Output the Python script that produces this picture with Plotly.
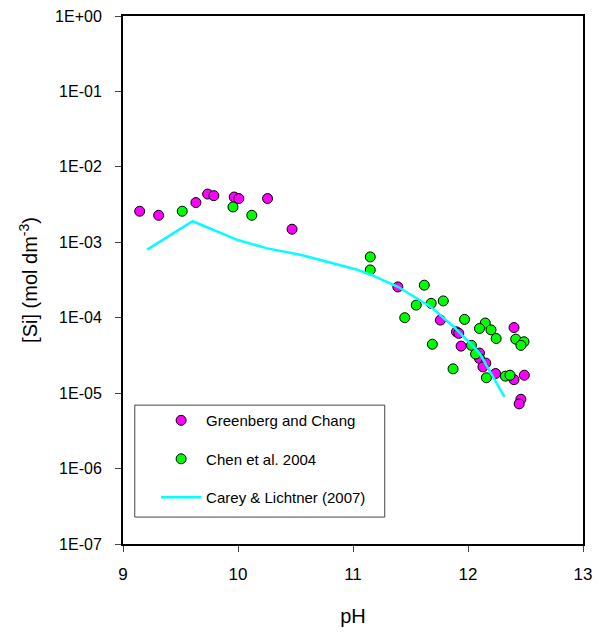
import plotly.graph_objects as go

# Greenberg and Chang data
gc_ph = [9.145, 9.31, 9.634, 9.736, 9.79, 9.967, 10.007, 10.257, 10.47,
         11.39, 11.76, 11.90, 11.92, 11.94, 12.10, 12.10, 12.155, 12.13, 12.24,
         12.40, 12.40, 12.49, 12.46, 12.445]
gc_si = [2.58e-3, 2.28e-3, 3.36e-3, 4.36e-3, 4.15e-3, 3.98e-3, 3.8e-3, 3.8e-3, 1.49e-3,
         2.56e-4, 9.3e-5, 6.5e-5, 6.2e-5, 4.2e-5, 3.4e-5, 2.88e-5, 2.5e-5, 2.23e-5, 1.82e-5,
         7.4e-5, 1.51e-5, 1.73e-5, 8.3e-6, 7.2e-6]

# Chen et al. 2004 data
ch_ph = [9.515, 9.956, 10.12, 11.15, 11.15, 11.62, 11.55, 11.68, 11.785, 11.45, 11.97,
         12.15, 12.10, 12.20, 12.245, 11.69, 12.03, 12.066, 11.87, 12.16, 12.325, 12.365,
         12.415, 12.487, 12.46]
ch_si = [2.58e-3, 2.94e-3, 2.28e-3, 6.4e-4, 4.3e-4, 2.7e-4, 1.47e-4, 1.55e-4, 1.67e-4, 1.0e-4, 9.5e-5,
         8.5e-5, 7.2e-5, 6.9e-5, 5.3e-5, 4.45e-5, 4.3e-5, 3.3e-5, 2.1e-5, 1.6e-5, 1.68e-5, 1.73e-5,
         5.2e-5, 4.8e-5, 4.3e-5]

# Carey & Lichtner (2007) model curve
cl_ph = [9.21, 9.606, 9.998, 10.254, 10.55, 10.68, 11.022, 11.165, 11.39, 11.677, 11.875, 12.10, 12.317]
cl_si = [8.0e-4, 1.9e-3, 1.07e-3, 8.3e-4, 6.8e-4, 6.0e-4, 4.4e-4, 3.66e-4, 2.57e-4, 1.39e-4, 7.6e-5, 3.4e-5, 8.9e-6]

y_tickvals = [1e0, 1e-1, 1e-2, 1e-3, 1e-4, 1e-5, 1e-6, 1e-7]
y_ticktext = ["1E+00", "1E-01", "1E-02", "1E-03", "1E-04", "1E-05", "1E-06", "1E-07"]
x_tickvals = [9, 10, 11, 12, 13]

fig = go.Figure()
fig.add_trace(go.Scatter(x=gc_ph, y=gc_si, mode="markers", name="Greenberg and Chang",
                         legendgroup="a",
                         marker=dict(color="#FF00FF", size=10, line=dict(color="black", width=1))))
fig.add_trace(go.Scatter(x=ch_ph, y=ch_si, mode="markers", name="Chen et al. 2004",
                         legendgroup="b",
                         marker=dict(color="#00FF00", size=10, line=dict(color="black", width=1))))
fig.add_trace(go.Scatter(x=cl_ph, y=cl_si, mode="lines", name="Carey & Lichtner (2007)",
                         legendgroup="c",
                         line=dict(color="#00FFFF", width=2.5)))

# legend frame
fig.add_shape(type="rect", xref="paper", yref="paper",
              x0=0.0256, x1=0.569, y0=0.051, y1=0.263,
              line=dict(color="#444444", width=1), fillcolor="rgba(0,0,0,0)", layer="above")

fig.update_layout(
    width=600, height=633,
    margin=dict(l=123, r=8, t=16, b=89),
    paper_bgcolor="white", plot_bgcolor="white",
    font=dict(family="Liberation Sans, Arial, sans-serif", color="black", size=15),
    legend=dict(x=0.072, y=0.265, xanchor="left", yanchor="top",
                borderwidth=0, bgcolor="rgba(255,255,255,0)",
                font=dict(size=15), tracegroupgap=16, itemwidth=40),
    showlegend=True,
)
fig.update_xaxes(range=[9, 13], tickvals=x_tickvals, ticks="outside", ticklen=6,
                 showline=True, linecolor="black", linewidth=2, mirror=True,
                 showgrid=False, zeroline=False, tickfont=dict(size=17),
                 ticklabelstandoff=8,
                 title=dict(text="pH", font=dict(size=20), standoff=26))
fig.update_yaxes(type="log", range=[-7, 0], tickvals=y_tickvals, ticktext=y_ticktext,
                 ticks="outside", ticklen=6,
                 showline=True, linecolor="black", linewidth=2, mirror=True,
                 showgrid=False, zeroline=False, tickfont=dict(size=16),
                 ticklabelstandoff=10,
                 title=dict(text="[Si] (mol dm<sup>-3</sup>)", font=dict(size=20), standoff=12))

fig.write_html("out.html")
